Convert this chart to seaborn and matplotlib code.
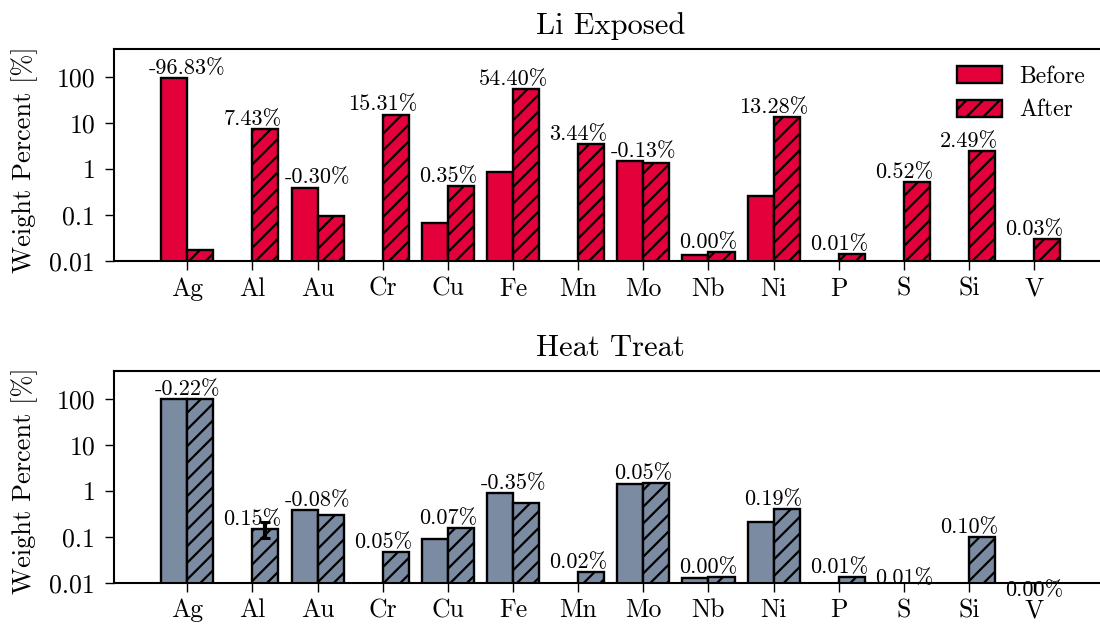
import matplotlib
matplotlib.use("Agg")
import matplotlib.pyplot as plt
from matplotlib.ticker import NullLocator
import pandas as pd
import seaborn as sns

# Elements measured on the sample surface
elements = ["Ag", "Al", "Au", "Cr", "Cu", "Fe", "Mn", "Mo", "Nb", "Ni", "P", "S", "Si", "V"]
stages = ["Before", "After"]

# Weight percent of each element, Li exposure
li_before = [96.85, 0, 0.395, 0, 0.068, 0.88, 0, 1.48, 0.0135, 0.26, 0, 0, 0, 0]
li_after = [0.017, 7.43, 0.095, 15.31, 0.418, 55.28, 3.44, 1.35, 0.0155, 13.54, 0.014, 0.52, 2.49, 0.03]

# Weight percent of each element, heat treatment
heat_before = [99.6, 0, 0.38, 0, 0.088, 0.90, 0, 1.42, 0.0125, 0.21, 0, 0, 0, 0]
heat_after = [99.38, 0.15, 0.30, 0.047, 0.158, 0.55, 0.017, 1.47, 0.0135, 0.40, 0.013, 0.0077, 0.10, 0.0042]
heat_after_err = {"Al": 0.055}

ytick_values = [0.01, 0.1, 1, 10, 100]
ytick_labels = ["0.01", "0.1", "1", "10", "100"]

RED = "#E4003B"
SLATE = "#7B8BA2"

sns.set_style("ticks")
plt.rcParams["font.family"] = ["cmr10", "DejaVu Serif"]
plt.rcParams["mathtext.fontset"] = "cm"
plt.rcParams["axes.unicode_minus"] = False
plt.rcParams["axes.formatter.use_mathtext"] = True
plt.rcParams["hatch.linewidth"] = 1.6
plt.rcParams["axes.linewidth"] = 1.5
for key in ["text.color", "axes.labelcolor", "xtick.color", "ytick.color", "axes.edgecolor"]:
    plt.rcParams[key] = "black"

W, H = 1100, 626
fig = plt.figure(figsize=(W / 100, H / 100), dpi=100)


def panel(rect, title, before, after, color, errors=None, legend=False):
    ax = fig.add_axes(rect)
    df = pd.DataFrame({
        "Element": elements * 2,
        "Stage": ["Before"] * len(elements) + ["After"] * len(elements),
        "Weight": list(before) + list(after),
    })
    sns.barplot(data=df, x="Element", y="Weight", hue="Stage",
                order=elements, hue_order=stages, palette=[color, color],
                saturation=1, edgecolor="black", linewidth=1.7,
                errorbar=None, width=0.8, legend=False, ax=ax)
    for p in ax.containers[1]:
        p.set_hatch("//")
    ax.set_yscale("log")
    ax.set_ylim(0.01, 10 ** 2.61)
    ax.set_xlim(-1.125, 14.125)
    ax.set_yticks(ytick_values, ytick_labels)
    ax.yaxis.set_minor_locator(NullLocator())
    ax.tick_params(axis="both", labelsize=18.5, length=6.5, width=1.0)
    ax.tick_params(axis="y", pad=7)
    ax.tick_params(axis="x", pad=5)
    ax.set_xlabel("")
    ax.set_ylabel("Weight Percent [%]", fontsize=19)
    ax.yaxis.set_label_coords(-0.077, 0.48)
    ax.set_title(title, fontsize=22, pad=11)

    if errors:
        for name, err in errors.items():
            i = elements.index(name)
            bar = ax.containers[1][i]
            xc = bar.get_x() + bar.get_width() / 2
            ax.errorbar(xc, after[i], yerr=err, fmt="none", ecolor="black",
                        elinewidth=3, capsize=3.5, capthick=2.2, zorder=5)

    for i, (b, a) in enumerate(zip(before, after)):
        ax.text(i, max(b, a), f"{a - b:.2f}%", ha="center", va="bottom",
                fontsize=16, zorder=6)

    if legend:
        ax.legend(handles=[ax.containers[0], ax.containers[1]], labels=stages,
                  loc="upper right", frameon=False, prop={"size": 17},
                  handlelength=1.9, handleheight=0.7, labelspacing=0.5,
                  handletextpad=0.7, borderaxespad=0.0,
                  bbox_to_anchor=(1094 / W, 1 - 56 / H),
                  bbox_transform=fig.transFigure)
    return ax


left = 114 / W
width = 993.5 / W
panel([left, 365 / H, width, 212 / H], "Li Exposed", li_before, li_after, RED, legend=True)
panel([left, 43.3 / H, width, 211.7 / H], "Heat Treat", heat_before, heat_after, SLATE,
      errors=heat_after_err)

fig.savefig("out.png", dpi=100)
